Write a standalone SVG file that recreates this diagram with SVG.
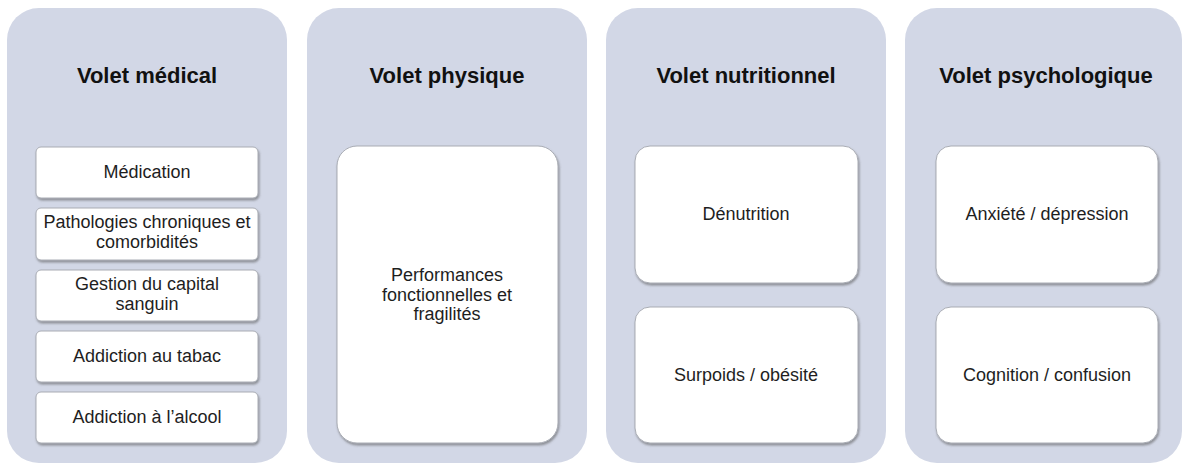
<svg xmlns="http://www.w3.org/2000/svg" width="1188" height="465" viewBox="0 0 1188 465">
<style>
.panel{fill:#d2d7e6;}
.box{fill:#ffffff;stroke:#a9acb4;stroke-width:1;filter:url(#sh);}
.title{font-family:"Liberation Sans",Arial,sans-serif;font-weight:bold;font-size:22px;fill:#111;text-anchor:middle;}
.lbl{font-family:"Liberation Sans",Arial,sans-serif;font-size:18px;fill:#1e1e1e;text-anchor:middle;}
</style>
<defs>
<filter id="sh" x="-10%" y="-10%" width="120%" height="130%">
<feDropShadow dx="1" dy="2" stdDeviation="1.2" flood-color="#555" flood-opacity="0.55"/>
</filter>
</defs>
<rect width="1188" height="465" fill="#ffffff"/>
<g id="connectors"></g>
<g id="volet-medical">
<rect class="panel" x="7" y="8" width="280" height="455" rx="32"/>
<text class="title" x="147" y="83">Volet médical</text>
</g>
<g id="medication">
<rect class="box" x="36" y="147" width="222" height="51" rx="5"/>
<text class="lbl" x="147" y="178">Médication</text>
</g>
<g id="pathologies">
<rect class="box" x="36" y="208" width="222" height="52" rx="5"/>
<text class="lbl" x="147" y="228">Pathologies chroniques et</text>
<text class="lbl" x="147" y="248">comorbidités</text>
</g>
<g id="capital-sanguin">
<rect class="box" x="36" y="270" width="222" height="51" rx="5"/>
<text class="lbl" x="147" y="290">Gestion du capital</text>
<text class="lbl" x="147" y="310">sanguin</text>
</g>
<g id="tabac">
<rect class="box" x="36" y="331" width="222" height="51" rx="5"/>
<text class="lbl" x="147" y="362">Addiction au tabac</text>
</g>
<g id="alcool">
<rect class="box" x="36" y="392" width="222" height="51" rx="5"/>
<text class="lbl" x="147" y="423">Addiction à l’alcool</text>
</g>
<g id="volet-physique">
<rect class="panel" x="307" y="8" width="280" height="455" rx="32"/>
<text class="title" x="447" y="83">Volet physique</text>
</g>
<g id="performances">
<rect class="box" x="337" y="146" width="221" height="297" rx="20"/>
<text class="lbl" x="447" y="281">Performances</text>
<text class="lbl" x="447" y="301">fonctionnelles et</text>
<text class="lbl" x="447" y="320">fragilités</text>
</g>
<g id="volet-nutritionnel">
<rect class="panel" x="606" y="8" width="280" height="455" rx="32"/>
<text class="title" x="746" y="83">Volet nutritionnel</text>
</g>
<g id="denutrition">
<rect class="box" x="635" y="146" width="223" height="137" rx="15"/>
<text class="lbl" x="746" y="220">Dénutrition</text>
</g>
<g id="surpoids">
<rect class="box" x="635" y="307" width="223" height="136" rx="15"/>
<text class="lbl" x="746" y="381">Surpoids / obésité</text>
</g>
<g id="volet-psychologique">
<rect class="panel" x="905" y="8" width="277" height="455" rx="32"/>
<text class="title" x="1046" y="83">Volet psychologique</text>
</g>
<g id="anxiete">
<rect class="box" x="936" y="146" width="222" height="137" rx="15"/>
<text class="lbl" x="1047" y="220">Anxiété / dépression</text>
</g>
<g id="cognition">
<rect class="box" x="936" y="307" width="222" height="136" rx="15"/>
<text class="lbl" x="1047" y="381">Cognition / confusion</text>
</g>
</svg>
